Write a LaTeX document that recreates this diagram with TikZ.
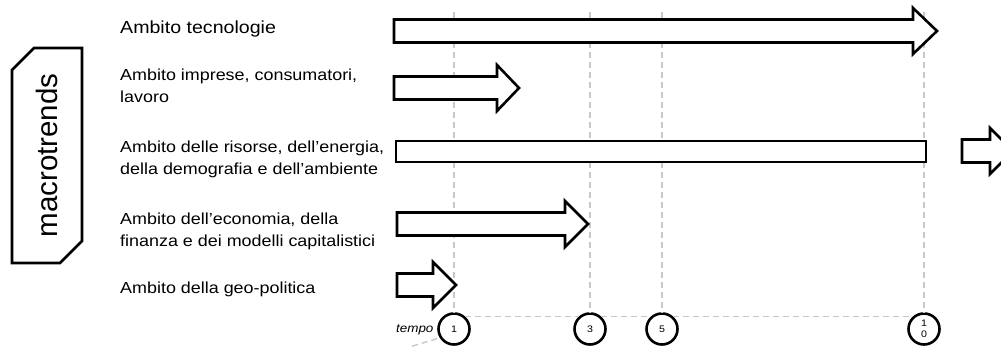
\documentclass[tikz,border=0pt]{standalone}
\usepackage{fontspec}
\setmainfont{Liberation Sans}[FakeStretch=1.12]
\newfontfamily\plainsans{Liberation Sans}
\usetikzlibrary{shapes.misc}

\newcommand{\fatarrow}[4]{%
    \draw[block] (#1,#4-11.5) -- (#3,#4-11.5) -- (#3,#4-23) -- (#2,#4)
        -- (#3,#4+23) -- (#3,#4+11.5) -- (#1,#4+11.5) -- cycle;
}

\begin{document}
\begin{tikzpicture}[
        x=1pt, y=-1pt,
        block/.style={draw, line width=2.6pt, line join=miter, fill=white},
        grid/.style={draw=black!22, line width=1.4pt, dash pattern=on 6pt off 4pt},
        label/.style={anchor=base west, align=left, inner sep=0pt,
            font=\fontsize{16}{22}\selectfont},
        tick/.style={draw, circle, line width=2.6pt, minimum size=31pt,
            inner sep=0pt, fill=white, align=center,
            font=\fontsize{9.5}{10.5}\selectfont},
        macro/.style={draw, line width=2.6pt, chamfered rectangle,
            chamfered rectangle corners={north east,south west},
            chamfered rectangle xsep=11pt, chamfered rectangle ysep=11pt,
            minimum width=215pt, minimum height=70pt, rotate=90,
            font=\plainsans\fontsize{29.5}{31}\selectfont},
    ]
    \path[use as bounding box, clip] (0,0) rectangle (1001,347);

    \node[macro](macro) at (47,155.5){macrotrends};

    \node[label, font=\fontsize{17.5}{22}\selectfont](tecn) at (120,34){Ambito tecnologie};
    \node[label](impr) at (120,103){Ambito imprese, consumatori,\\lavoro};
    \node[label](ris) at (120,175){Ambito delle risorse, dell’energia,\\della demografia e dell’ambiente};
    \node[label](eco) at (120,247){Ambito dell’economia, della\\finanza e dei modelli capitalistici};
    \node[label](geo) at (120,294){Ambito della geo-politica};

    \node[tick](t1) at (454,329){1};
    \node[tick](t3) at (590,329){3};
    \node[tick](t5) at (662,329){5};
    \node[tick](t10) at (924,329){1\\0};
    \node[font=\itshape\fontsize{12}{14}\selectfont, anchor=east](tempo) at (437,330){tempo};

    \coordinate (top1) at (454,12);
    \coordinate (top3) at (590,12);
    \coordinate (top5) at (662,12);
    \coordinate (top10) at (924,12);
    \coordinate (low) at (380,356);
    \draw[grid] (top1) -- (t1) (top3) -- (t3) (top5) -- (t5) (top10) -- (t10);
    \draw[grid] (t1.48) -- (t3.132) (t3.48) -- (t5.132) (t5.48) -- (t10.132);
    \draw[grid] (tempo.south east) -- (low);

    \fatarrow{394}{937}{913}{31}
    \fatarrow{394}{519}{497}{88}
    \draw[block] (396,141) rectangle (926,162);
    \fatarrow{962}{1013}{990}{151}
    \fatarrow{397}{588}{565}{224}
    \fatarrow{397}{456}{433}{285}

    \end{tikzpicture}
\end{document}
